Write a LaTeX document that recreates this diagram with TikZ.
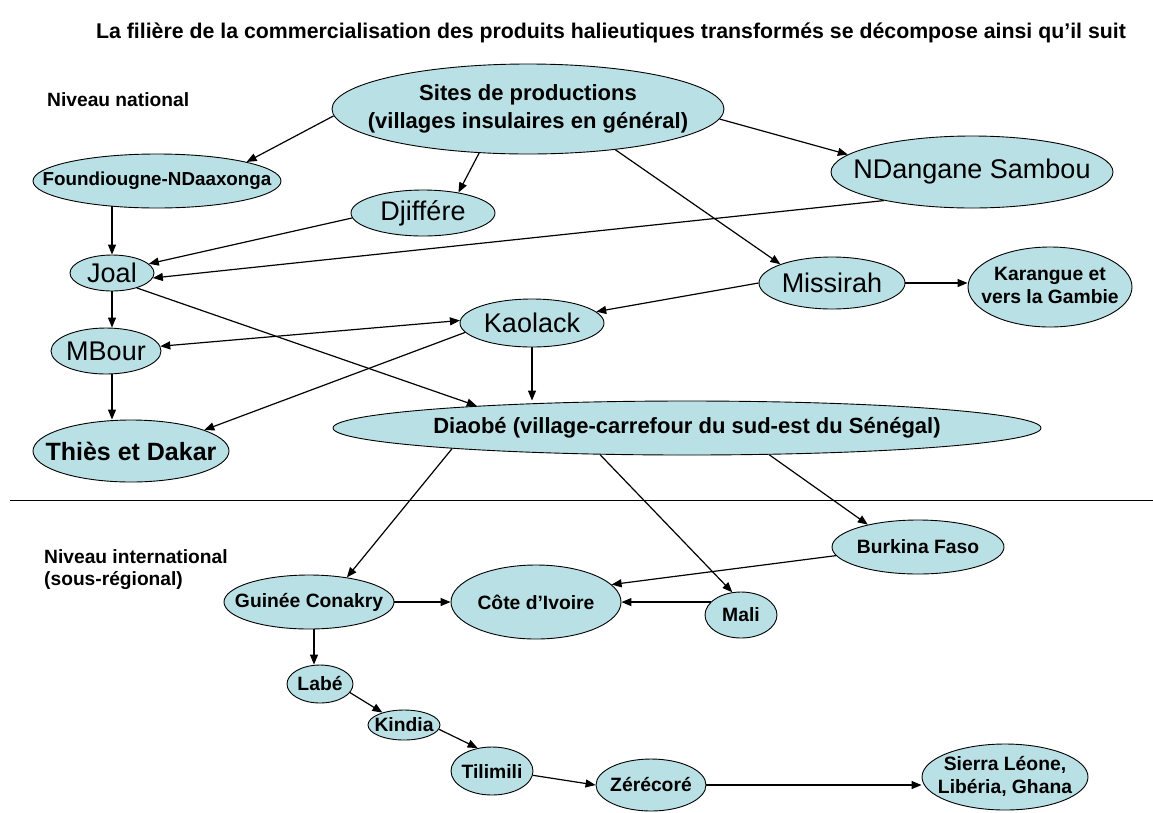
\documentclass[tikz,border=0pt]{standalone}
\usepackage{fontspec}
\setmainfont{Liberation Sans}
\usetikzlibrary{shapes.geometric,arrows.meta}
\definecolor{nodefill}{RGB}{185,224,228}
\newcommand\zb[1]{\makebox[0pt]{#1}}
\newcommand\zbb[1]{\makebox[0pt]{\begin{tabular}{@{}c@{}}#1\end{tabular}}}
\pgfdeclarelayer{bg}
\pgfsetlayers{bg,main}
\tikzset{
  ell/.style={ellipse, draw=black, line width=0.9pt, fill=nodefill, inner sep=0pt},
  reg/.style={font=\fontsize{27}{30}\selectfont},
  sb/.style={font=\fontsize{19.3}{23}\selectfont\bfseries},
  mb/.style={font=\fontsize{22}{28}\selectfont\bfseries},
  arr/.style={-{Triangle[length=10pt,width=8pt]}, line width=1.2pt},
  darr/.style={{Triangle[length=10pt,width=8pt]}-{Triangle[length=10pt,width=8pt]}, line width=1.2pt},
  lbl/.style={font=\fontsize{19.2}{22}\selectfont\bfseries, inner sep=0pt, anchor=west, align=left}
}
\begin{document}
\begin{tikzpicture}[x=1pt,y=-1pt]
\useasboundingbox (0,0) rectangle (1153,812);
% texts
\node[font=\fontsize{21.3}{25}\selectfont\bfseries, inner sep=0pt] (title) at (611,33) {La filière de la commercialisation des produits halieutiques transformés se décompose ainsi qu’il suit};
\node[lbl] (nat) at (47,100) {Niveau national};
\node[lbl] (intl) at (44,570) {Niveau international\\(sous-régional)};
% nodes
\node[ell, mb, minimum width=392pt, minimum height=90pt] (sites) at (528,109) {\zbb{Sites de productions\\(villages insulaires en général)}};
\node[ell, font=\fontsize{18.8}{23}\selectfont\bfseries, minimum width=248pt, minimum height=54pt] (found) at (157,181) {\zb{Foundiougne-NDaaxonga}};
\node[ell, reg, minimum width=282pt, minimum height=72pt] (ndang) at (972,172) {\zb{NDangane Sambou}};
\node[ell, reg, minimum width=144pt, minimum height=46pt] (djif) at (423,213) {\zb{Djiffére}};
\node[ell, reg, minimum width=84pt, minimum height=36pt] (joal) at (112,273) {\zb{Joal}};
\node[ell, reg, minimum width=146pt, minimum height=52pt] (miss) at (832,283) {\zb{Missirah}};
\node[ell, sb, minimum width=164pt, minimum height=80pt] (kar) at (1050,287) {\zbb{Karangue et\\vers la Gambie}};
\node[ell, reg, minimum width=144pt, minimum height=48pt] (kaol) at (532,323) {\zb{Kaolack}};
\node[ell, reg, minimum width=110pt, minimum height=46pt] (mbour) at (106,351) {\zb{MBour}};
\node[ell, mb, minimum width=708pt, minimum height=54pt] (diaobe) at (687,428) {\zb{Diaobé (village-carrefour du sud-est du Sénégal)}};
\node[ell, font=\fontsize{25}{30}\selectfont\bfseries, minimum width=196pt, minimum height=62pt] (thies) at (131,451) {\zb{Thiès et Dakar}};
\node[ell, sb, minimum width=172pt, minimum height=54pt] (burk) at (918,547) {\zb{Burkina Faso}};
\node[ell, sb, minimum width=170pt, minimum height=54pt] (guinee) at (309,602) {\zb{Guinée Conakry}};
\node[ell, sb, minimum width=170pt, minimum height=74pt] (cote) at (536,602) {\zb{Côte d’Ivoire}};
\node[ell, sb, minimum width=72pt, minimum height=46pt] (mali) at (741,615) {\zb{Mali}};
\node[ell, sb, minimum width=66pt, minimum height=38pt] (labe) at (320,684) {\zb{Labé}};
\node[ell, sb, minimum width=72pt, minimum height=30pt] (kindia) at (404,725) {\zb{Kindia}};
\node[ell, sb, minimum width=82pt, minimum height=48pt] (tili) at (492,771) {\zb{Tilimili}};
\node[ell, sb, minimum width=110pt, minimum height=52pt] (zere) at (651,785) {\zb{Zérécoré}};
\node[ell, sb, minimum width=166pt, minimum height=66pt] (sierra) at (1005,777) {\zbb{Sierra Léone,\\Libéria, Ghana}};
% separator
\draw[line width=0.9pt] (10,500) -- (1153,500);
% connectors
\begin{pgfonlayer}{bg}
\draw[arr] (sites.182) -- (found.12);
\draw[arr] (sites.222) -- (djif.30);
\draw[arr] (sites.-3) -- (ndang.172);
\draw[arr] (sites.-25) -- (miss.160);
\draw[arr] (ndang.198) -- (joal.-7);
\draw[arr] (djif.184) -- (joal.14);
\draw[arr] (found.center -| joal.north) -- (joal.north);
\draw[arr] (joal.south) -- (joal.south |- mbour.north);
\draw[arr] (mbour.center -| joal.south) -- (joal.south |- thies.north);
\draw[arr] (joal.-31) -- (diaobe.174.4);
\draw[arr] (miss.west) -- (kaol.10);
\draw[darr] (mbour.5) -- (kaol.178);
\draw[arr] (kaol.188) -- (thies.16);
\draw[arr] (kaol.south) -- (kaol.south |- diaobe.north);
\draw[arr] (miss.east) -- (miss.east -| kar.west);
\draw[arr] (diaobe.185) -- (guinee.33);
\draw[arr] (diaobe.197.5) -- (mali.111);
\draw[arr] (diaobe.-18) -- (burk.156);
\draw[arr] (burk.186) -- (cote.13);
\draw[arr] (mali.157) -- (mali.157 -| cote.east);
\draw[arr] (guinee.east) -- (cote.west);
\draw[arr] ([xshift=5pt]guinee.center) -- ([xshift=5pt]guinee.center |- labe.north);
\draw[arr] (labe.-16) -- (kindia.150);
\draw[arr] (kindia.-7) -- (tili.122);
\draw[arr] (tili.-6) -- (zere.west);
\draw[arr] (zere.east) -- (zere.east -| sierra.west);
\end{pgfonlayer}
\end{tikzpicture}
\end{document}
